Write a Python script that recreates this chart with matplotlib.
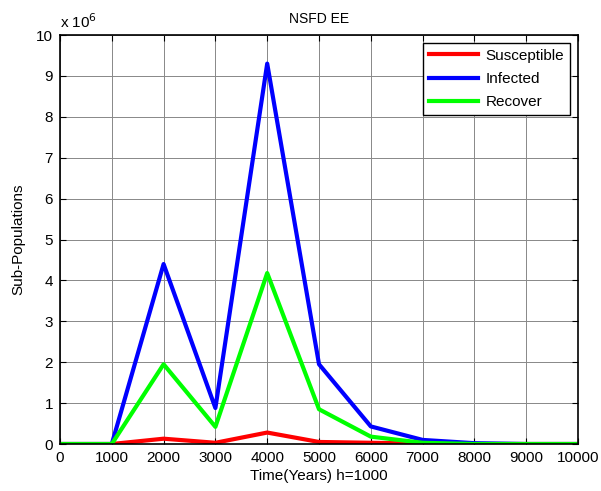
import matplotlib
matplotlib.use("Agg")
import matplotlib.pyplot as plt
import numpy as np

plt.rcParams['font.family'] = ['Liberation Sans', 'DejaVu Sans']

time = [0, 1000, 2000, 3000, 4000, 5000, 6000, 7000, 8000, 9000, 10000]
susceptible = [0, 0, 0.13, 0.03, 0.28, 0.05, 0.03, 0.01, 0, 0, 0]
infected = [0, 0, 4.4, 0.88, 9.3, 1.95, 0.43, 0.1, 0.02, 0, 0]
recover = [0, 0, 1.95, 0.42, 4.18, 0.85, 0.18, 0.03, 0, 0, 0]
scale = 1e6

fig = plt.figure(figsize=(6.01, 4.91), dpi=100)
ax = fig.add_axes([0.0998, 0.0957, 0.862, 0.833])

ax.plot(time, np.array(susceptible) * scale, color='#ff0000', lw=3, label='Susceptible')
ax.plot(time, np.array(infected) * scale, color='#0000ff', lw=3, label='Infected')
ax.plot(time, np.array(recover) * scale, color='#00ff00', lw=3, label='Recover')

fs = 11
ax.set_xlim(0, 10000)
ax.set_ylim(0, 10 * scale)
ax.set_xticks(np.arange(0, 10001, 1000))
ax.set_yticks(np.arange(0, 11, 1) * scale)
ax.set_yticklabels([str(i) for i in range(11)])
ax.grid(True, color='#888888', lw=0.7)
ax.tick_params(direction='in', top=True, right=True, labelsize=fs, length=4, pad=5)
for s in ax.spines.values():
    s.set_linewidth(1.2)
ax.text(0.0, 1.01, r'x 10$^{6}$', transform=ax.transAxes, fontsize=fs, ha='left', va='bottom')
ax.set_title('NSFD EE', fontsize=10, pad=9)
ax.set_xlabel('Time(Years) h=1000', fontsize=fs, labelpad=3)
ax.set_ylabel('Sub-Populations', fontsize=fs, labelpad=8)
leg = ax.legend(loc='upper right', fontsize=fs, fancybox=False, framealpha=1,
                edgecolor='black', handlelength=3.2, borderaxespad=0.5,
                labelspacing=0.6, handletextpad=0.5)
leg.get_frame().set_linewidth(1.0)

fig.savefig('out.png', dpi=100)
